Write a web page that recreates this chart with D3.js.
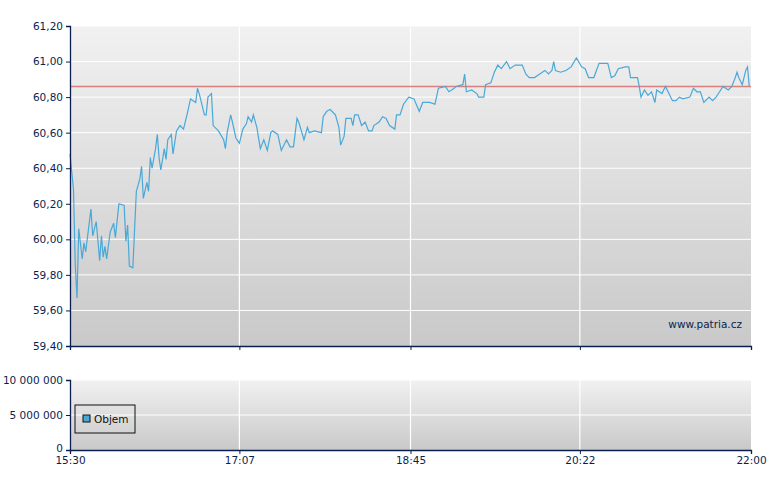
<!DOCTYPE html>
<html><head><meta charset="utf-8">
<script src="https://cdn.jsdelivr.net/npm/d3@7"></script>
<style>body{margin:0;background:#fff}svg{display:block}text{font-family:"DejaVu Sans",Verdana,sans-serif;font-size:10.5px;fill:#0a1f4f}</style>
</head><body><svg id="c" width="780" height="490"></svg>
<script>
const minutes = [0,2,3,4,5,7,8,9,12,13,15,17,18,19,20,21,23,25,26,28,31,32,33,34,36,37,38,40,41,42,44,45,46,47,49,50,51,52,54,55,56,58,59,61,63,65,67,69,72,73,74,77,78,79,81,82,85,88,89,90,92,93,95,97,99,101,102,104,105,107,109,111,113,115,116,119,121,124,126,128,130,131,134,136,137,140,144,145,147,149,152,154,155,157,158,161,162,163,165,167,169,171,173,174,177,179,181,183,186,187,189,191,194,197,200,202,206,209,211,215,217,220,221,225,226,227,230,233,234,237,238,241,243,245,247,250,252,255,259,261,263,266,269,272,274,276,277,278,281,284,287,290,293,295,297,300,303,308,310,312,314,318,320,321,325,326,327,329,331,333,335,336,339,341,343,345,347,349,351,355,357,359,361,363,366,368,370,372,374,377,379,381,382,383,385,387,388,389];
const prices = [60.48,60.28,59.86,59.67,60.06,59.89,59.98,59.93,60.17,60.02,60.10,59.88,60.02,59.90,59.96,59.89,60.04,60.09,60.01,60.20,60.19,59.99,60.08,59.85,59.84,60.06,60.27,60.34,60.41,60.23,60.32,60.27,60.46,60.40,60.51,60.59,60.46,60.39,60.51,60.45,60.56,60.59,60.48,60.61,60.64,60.62,60.70,60.79,60.77,60.85,60.82,60.70,60.70,60.80,60.82,60.64,60.61,60.56,60.51,60.60,60.70,60.66,60.57,60.54,60.62,60.65,60.69,60.66,60.70,60.63,60.51,60.56,60.50,60.60,60.61,60.59,60.50,60.56,60.52,60.52,60.68,60.66,60.56,60.63,60.60,60.61,60.60,60.69,60.72,60.73,60.70,60.63,60.53,60.58,60.68,60.68,60.64,60.70,60.70,60.64,60.66,60.61,60.61,60.64,60.66,60.69,60.68,60.64,60.62,60.70,60.70,60.76,60.80,60.79,60.72,60.77,60.77,60.76,60.85,60.86,60.83,60.85,60.86,60.87,60.93,60.83,60.84,60.82,60.80,60.80,60.87,60.88,60.94,60.98,60.96,61.00,60.96,60.98,60.98,60.93,60.91,60.91,60.93,60.95,60.93,60.95,61.00,60.95,60.94,60.95,60.97,61.02,60.97,60.96,60.91,60.91,60.99,60.99,60.91,60.92,60.96,60.97,60.97,60.91,60.91,60.86,60.80,60.84,60.81,60.83,60.77,60.84,60.82,60.86,60.82,60.78,60.78,60.80,60.79,60.80,60.85,60.83,60.83,60.77,60.80,60.78,60.80,60.83,60.86,60.84,60.86,60.91,60.94,60.91,60.87,60.95,60.97,60.86];
const refPrice = 60.86;
const priceTicks = [59.4,59.6,59.8,60.0,60.2,60.4,60.6,60.8,61.0,61.2];
const volTicks = [0,5000000,10000000];
const timeTickMin = [0,97,195,292,390];
const timeTickLabels = ["15:30","17:07","18:45","20:22","22:00"];

const svg = d3.select("#c");
const L=70,R=751, T1=26,B1=346, T2=380,B2=450;
const x = d3.scaleLinear().domain([0,390]).range([L,R]);
const y = d3.scaleLinear().domain([59.4,61.2]).range([B1,T1]);
const yv = d3.scaleLinear().domain([0,10000000]).range([B2,T2]);
const defs = svg.append("defs");
const g = defs.append("linearGradient").attr("id","bg").attr("x1",0).attr("y1",0).attr("x2",0).attr("y2",1);
g.append("stop").attr("offset","0").attr("stop-color","#f1f1f1");
g.append("stop").attr("offset","1").attr("stop-color","#c9c9c9");
svg.append("rect").attr("x",L).attr("y",T1).attr("width",R-L).attr("height",B1-T1).attr("fill","url(#bg)");
svg.append("rect").attr("x",L).attr("y",T2).attr("width",R-L).attr("height",B2-T2).attr("fill","url(#bg)");
const fmt = v=>d3.format(".2f")(v).replace(".",",");
svg.append("g").selectAll("line").data(priceTicks.slice(1)).join("line")
 .attr("x1",L).attr("x2",R).attr("y1",d=>y(d)).attr("y2",d=>y(d)).attr("stroke","#fff").attr("stroke-width",1);
svg.append("g").selectAll("line").data(volTicks.slice(1)).join("line")
 .attr("x1",L).attr("x2",R).attr("y1",d=>yv(d)).attr("y2",d=>yv(d)).attr("stroke","#fff");
[[T1,B1],[T2,B2]].forEach(([a,b])=>svg.append("g").selectAll("line").data(timeTickMin.slice(1,4)).join("line")
 .attr("x1",d=>x(d)).attr("x2",d=>x(d)).attr("y1",a).attr("y2",b).attr("stroke","#fff").attr("stroke-width",1.2));
svg.append("line").attr("x1",L).attr("x2",R).attr("y1",y(refPrice)).attr("y2",y(refPrice)).attr("stroke","#d98080").attr("stroke-width",1.6);
svg.append("path").datum(minutes.map((m,i)=>[m,prices[i]])).attr("fill","none").attr("stroke","#4aa8d8").attr("stroke-width",1.2)
 .attr("d",d3.line().x(d=>x(d[0])).y(d=>y(d[1])));
const axC="#0a1f4f";
const ay = svg.append("g").attr("transform",`translate(${L},0)`).call(d3.axisLeft(y).tickValues(priceTicks).tickFormat(fmt).tickSize(4).tickPadding(3));
const av = svg.append("g").attr("transform",`translate(${L},0)`).call(d3.axisLeft(yv).tickValues(volTicks).tickFormat(v=>d3.format(",")(v).replace(/,/g," ")).tickSize(4).tickPadding(3));
const ax1 = svg.append("g").attr("transform",`translate(0,${B1})`).call(d3.axisBottom(x).tickValues(timeTickMin).tickFormat("").tickSize(4));
const ax2 = svg.append("g").attr("transform",`translate(0,${B2})`).call(d3.axisBottom(x).tickValues(timeTickMin).tickFormat((d,i)=>timeTickLabels[i]).tickSize(4).tickPadding(3));
[ay,av,ax1,ax2].forEach(a=>{a.selectAll("path,line").attr("stroke",axC);a.selectAll("text").style("font-family",'"DejaVu Sans",Verdana,sans-serif').style("font-size","10.5px").attr("fill",axC);a.select(".domain").attr("stroke-width",1.3);});
av.selectAll(".tick text").filter(d=>d===0).attr("dy","0.1em");
svg.append("text").attr("x",742).attr("y",328).attr("text-anchor","end").text("www.patria.cz");
svg.append("rect").attr("x",75).attr("y",405).attr("width",60).attr("height",28).attr("fill","none").attr("stroke","#111");
svg.append("rect").attr("x",83).attr("y",415).attr("width",7).attr("height",7).attr("fill","#4aa8d8").attr("stroke","#111");
svg.append("text").attr("x",94).attr("y",423).style("fill","#111").text("Objem");
</script></body></html>
